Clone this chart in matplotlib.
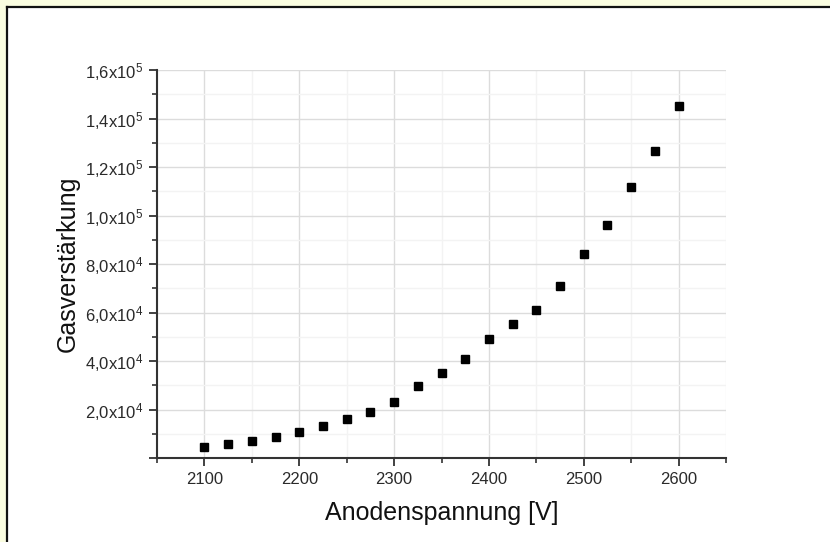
import numpy as np
import matplotlib
matplotlib.use("Agg")
import matplotlib.pyplot as plt
from matplotlib.patches import Rectangle
from matplotlib.lines import Line2D
from matplotlib.ticker import MultipleLocator, FuncFormatter

plt.rcParams['font.family'] = ['Liberation Sans', 'DejaVu Sans']
plt.rcParams['mathtext.default'] = 'regular'

# Anodenspannung [V] and Gasverstaerkung
voltage = [2100, 2125, 2150, 2175, 2200, 2225, 2250, 2275, 2300, 2325, 2350,
           2375, 2400, 2425, 2450, 2475, 2500, 2525, 2550, 2575, 2600]
gain = [4.7e3, 5.7e3, 7.1e3, 8.6e3, 10.8e3, 13.3e3, 16.1e3, 19.0e3, 23.2e3,
        29.7e3, 35.1e3, 40.9e3, 48.9e3, 55.3e3, 61.0e3, 70.9e3, 84.3e3,
        96.0e3, 111.9e3, 126.6e3, 145.3e3]

xlabel = "Anodenspannung [V]"
ylabel = "Gasverstärkung"


def sci_comma(v, pos):
    if v <= 0:
        return ""
    exp = int(np.floor(np.log10(v)))
    mant = v / 10 ** exp
    return ("%.1f" % mant).replace(".", ",") + "x10$^{%d}$" % exp


fig = plt.figure(figsize=(8.3, 5.42), dpi=100)
fig.patch.set_facecolor("white")

# yellowish margin on top and left, dark frame line (picture is cropped right/bottom)
x0 = 7 / 830
y1 = 1 - 6.5 / 542
fig.add_artist(Rectangle((0, 0), x0, 1, transform=fig.transFigure,
                         facecolor="#fafde0", edgecolor="none", zorder=-5))
fig.add_artist(Rectangle((0, y1), 1, 1 - y1, transform=fig.transFigure,
                         facecolor="#fafde0", edgecolor="none", zorder=-5))
fig.add_artist(Line2D([x0, 1.0], [y1, y1], transform=fig.transFigure,
                      color="#111111", linewidth=1.6, zorder=-4))
fig.add_artist(Line2D([x0, x0], [0.0, y1], transform=fig.transFigure,
                      color="#111111", linewidth=1.6, zorder=-4))

ax = fig.add_axes([157 / 830, 1 - 458 / 542, (726 - 157) / 830, (458 - 70) / 542])
ax.set_zorder(1)
ax.set_facecolor("white")

ax.plot(voltage, gain, linestyle="none", marker="s", markersize=6,
        color="black", zorder=3)

ax.set_xlim(2050, 2650)
ax.set_ylim(0, 1.6e5)
ax.xaxis.set_major_locator(MultipleLocator(100))
ax.xaxis.set_minor_locator(MultipleLocator(50))
ax.yaxis.set_major_locator(MultipleLocator(2e4))
ax.yaxis.set_minor_locator(MultipleLocator(1e4))
ax.yaxis.set_major_formatter(FuncFormatter(sci_comma))

ax.grid(which="major", color="#dcdcdc", linewidth=1.0)
ax.grid(which="minor", color="#f3f3f3", linewidth=1.0)
ax.set_axisbelow(True)

for side in ["top", "right"]:
    ax.spines[side].set_visible(False)
for side in ["left", "bottom"]:
    ax.spines[side].set_color("#333333")
    ax.spines[side].set_linewidth(1.5)

ax.tick_params(which="major", direction="out", length=6, width=1.3,
               color="#333333", labelsize=12, labelcolor="#2a2a2a", pad=4)
ax.tick_params(which="minor", direction="out", length=3.5, width=1.2,
               color="#333333")

ax.set_xlabel(xlabel, fontsize=18, color="#111111", labelpad=10)
ax.set_ylabel(ylabel, fontsize=18, color="#111111", labelpad=4)

plt.savefig("out.png", dpi=100)
